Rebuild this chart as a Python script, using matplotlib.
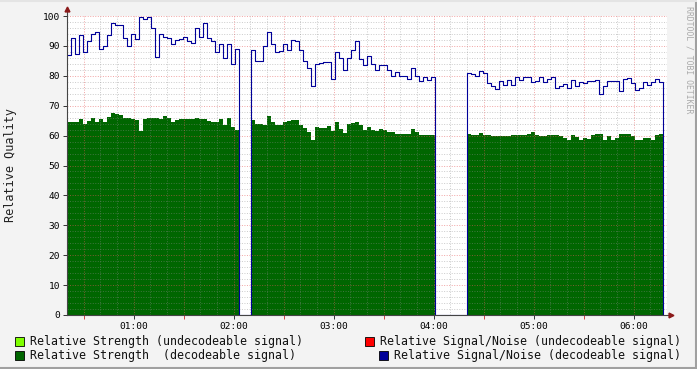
import numpy as np
import matplotlib
matplotlib.use("Agg")
import matplotlib.pyplot as plt
from matplotlib.patches import Rectangle
from matplotlib.lines import Line2D

plt.rcParams["font.family"] = ["DejaVu Sans Mono"]

# time base: minutes after midnight, one sample every 2.4 min
START_MIN = 20
STEP_MIN = 2.4

# Relative Signal/Noise (decodeable signal), three receiving periods
sn_part1 = [87, 92.5, 87.2, 93.5, 88, 91.5, 93.9, 94.8, 89.1, 90, 93.5, 97.5,
            96.9, 96.9, 92.5, 89.8, 93.9, 92.2, 99.8, 98.9, 99.8, 96, 86.3,
            93.9, 93, 92.8, 90.6, 91.9, 92.2, 93, 91.7, 91.1, 95.9, 93, 97.8,
            92.5, 91.5, 87.8, 90.6, 86.1, 90.6, 83.9, 88.9]
sn_part2 = [88.6, 85, 85, 90, 94.8, 90.5, 88, 88.3, 90.8, 88.5, 91.9, 91.5,
            88.5, 85, 82.5, 76.5, 84, 84.2, 84.5, 84.5, 78.9, 87.8, 86, 82,
            86, 88.5, 91.5, 85.5, 83.5, 86.5, 84, 82, 83.5, 83.5, 82, 80,
            81.4, 79.8, 80, 79, 82.5, 80, 78.3, 79.5, 78.5, 79.7]
sn_part3 = [81, 80.5, 80, 81.5, 80.8, 77.5, 76.5, 75.5, 78.3, 77, 78.6, 76.8,
            79.5, 78.5, 79.5, 79.5, 78, 78.2, 79.5, 78, 79, 79.5, 76, 76.5,
            77.2, 75.8, 78.5, 76.5, 78, 77.5, 78.3, 78.3, 78.5, 74, 76.5,
            78.3, 78.3, 78.3, 75, 79, 79.2, 77.5, 75.3, 76, 77.8, 77, 78,
            78.8, 78]

# Relative Strength (decodeable signal)
str_part1 = [64.5, 64.5, 64.5, 65.5, 63.8, 65, 66, 64.7, 65.5, 64.5, 66.3,
             67.4, 67.1, 66.9, 66, 65.8, 65.6, 65.2, 61.5, 65.5, 65.8, 66, 66,
             65.4, 66.5, 66, 64.7, 65.2, 65.4, 65.4, 65.4, 65.5, 66, 65.4,
             65.5, 64.9, 64.5, 64.5, 65.5, 63.5, 66, 63, 62]
str_part2 = [65.2, 63.8, 64, 63.6, 66.5, 64.5, 63.5, 63.6, 64.5, 65, 65.2,
             65.2, 63.6, 62.7, 61.3, 58.5, 63, 62.7, 62.4, 63.3, 61.6, 64.5,
             62.2, 60.8, 63.8, 64.1, 64.5, 63.5, 62, 63, 62, 61.6, 62.2, 62,
             61.3, 61.1, 60.6, 60.4, 60.4, 60.4, 62.2, 61.3, 60.2, 60.2, 60.2,
             60.2]
str_part3 = [60.5, 60.3, 60.2, 61, 60.2, 60.2, 60, 59.7, 59.8, 60, 60, 60.2,
             60.2, 60.2, 60.2, 60.5, 61.2, 60.2, 59.7, 59.8, 60.2, 60.2, 60.2,
             60, 59.3, 58.5, 60.2, 59.5, 58.5, 59.3, 59, 60.2, 60.4, 60.4,
             58.5, 60, 58.5, 59.3, 60.4, 60.4, 60.4, 60, 58.5, 58.5, 59.3,
             59.3, 58.5, 60.2, 60.4]

# samples with no data between the periods
gap1 = [0] * 3
gap2 = [0] * 8

hour_labels = ["01:00", "02:00", "03:00", "04:00", "05:00", "06:00"]

legend_left = ["Relative Strength (undecodeable signal)",
               "Relative Strength  (decodeable signal)"]
legend_right = ["Relative Signal/Noise (undecodeable signal)",
                "Relative Signal/Noise (decodeable signal)"]

sn = np.array(sn_part1 + gap1 + sn_part2 + gap2 + sn_part3 + [0], dtype=float)
strength = np.array(str_part1 + gap1 + str_part2 + gap2 + str_part3 + [0],
                    dtype=float)
t = START_MIN + STEP_MIN * np.arange(len(sn))

W, H = 697, 369
fig = plt.figure(figsize=(W / 100, H / 100), dpi=100, facecolor="#F3F3F3")
ax = fig.add_axes([67 / W, 54 / H, 600 / W, 299 / H])
ax.set_facecolor("white")

ax.fill_between(t, 0, strength, step="post", color="#006600", lw=0, zorder=1)

# grid on top of the area, as rrdtool does
for m in range(30, 380, 10):
    if m % 30 == 0:
        ax.axvline(m, color=(0.9, 0.35, 0.35, 0.55), lw=0.7,
                   dashes=(1, 1.6), zorder=2)
    else:
        ax.axvline(m, color=(0.55, 0.55, 0.55, 0.45), lw=0.7,
                   dashes=(1, 1.6), zorder=2)
for v in range(2, 101, 2):
    if v % 10 == 0:
        ax.axhline(v, color=(0.9, 0.35, 0.35, 0.55), lw=0.7,
                   dashes=(1, 1.6), zorder=2)
    else:
        ax.axhline(v, color=(0.55, 0.55, 0.55, 0.45), lw=0.7,
                   dashes=(1, 1.6), zorder=2)

ax.step(t, sn, where="post", color="#000099", lw=0.8, zorder=3)

ax.set_xlim(20, 380)
ax.set_ylim(0, 100)

ax.set_xticks(range(60, 361, 60))
ax.set_xticklabels(hour_labels)
ax.set_xticks(range(30, 380, 60), minor=True)
ax.set_yticks(range(0, 101, 10))
ax.tick_params(axis="both", which="major", labelsize=6.8, length=3,
               width=0.7, color="#333333", pad=2)
ax.tick_params(axis="x", which="minor", length=3, width=0.7,
               color="#CC4444")

for s in ax.spines.values():
    s.set_visible(False)

axis_col = "#444444"
ax.add_line(Line2D([0, 0], [0, 1.025], transform=ax.transAxes,
                   color=axis_col, lw=0.8, clip_on=False, zorder=4))
ax.add_line(Line2D([0, 1.006], [0, 0], transform=ax.transAxes,
                   color=axis_col, lw=0.8, clip_on=False, zorder=4))
ax.plot(0, 1.025, marker="^", color="#8B1A1A", ms=3.5,
        transform=ax.transAxes, clip_on=False, zorder=5)
ax.plot(1.006, 0, marker=">", color="#8B1A1A", ms=3.5,
        transform=ax.transAxes, clip_on=False, zorder=5)

fig.text(11 / W, 1 - 165 / H, "Relative Quality", rotation=90,
         ha="center", va="center", fontsize=8.5, color="#222222")
fig.text(689 / W, 1 - 60 / H, "RRDTOOL / TOBI OETIKER", rotation=270,
         ha="center", va="center", fontsize=5.9, color="#AAAAAA")

legend_rows = [341, 355.5]
left_colors = ["#7FFF00", "#006600"]
right_colors = ["#FF0000", "#000099"]
right_box_x = [365, 379]
for row, y in enumerate(legend_rows):
    fig.add_artist(Rectangle((15 / W, 1 - (y + 4.5) / H), 9 / W, 9 / H,
                             transform=fig.transFigure,
                             facecolor=left_colors[row],
                             edgecolor="black", lw=0.6))
    fig.text(30 / W, 1 - y / H, legend_left[row], ha="left", va="center",
             fontsize=8.35, color="#111111")
    bx = right_box_x[row]
    fig.add_artist(Rectangle((bx / W, 1 - (y + 4.5) / H), 9 / W, 9 / H,
                             transform=fig.transFigure,
                             facecolor=right_colors[row],
                             edgecolor="black", lw=0.6))
    fig.text((bx + 15) / W, 1 - y / H, legend_right[row], ha="left",
             va="center", fontsize=8.35, color="#111111")

# 3d-ish frame
fig.add_artist(Line2D([0, 1], [0.002, 0.002], transform=fig.transFigure,
                      color="#A0A0A0", lw=1.5))
fig.add_artist(Line2D([0.998, 0.998], [0, 1], transform=fig.transFigure,
                      color="#A0A0A0", lw=1.5))
fig.add_artist(Line2D([0, 1], [0.998, 0.998], transform=fig.transFigure,
                      color="#E4E4E4", lw=1.5))

fig.savefig("out.png", dpi=100, facecolor=fig.get_facecolor())
